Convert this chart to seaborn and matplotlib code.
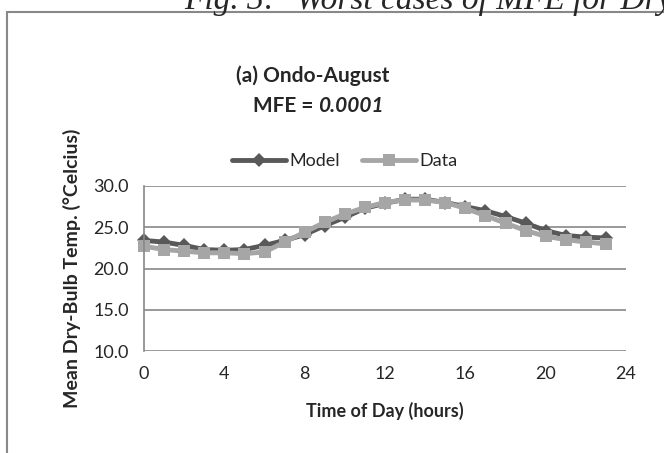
import matplotlib
matplotlib.use("Agg")
import matplotlib.pyplot as plt
import seaborn as sns
import pandas as pd
from matplotlib.patches import Rectangle

hours = list(range(24))
model_temp = [23.4, 23.2, 22.8, 22.3, 22.2, 22.3, 22.8, 23.4, 24.1, 25.2, 26.2, 27.3,
              27.9, 28.4, 28.4, 28.0, 27.5, 27.0, 26.3, 25.5, 24.6, 24.0, 23.8, 23.7]
data_temp = [22.7, 22.3, 22.1, 21.9, 21.9, 21.8, 22.0, 23.2, 24.4, 25.6, 26.6, 27.4,
             28.0, 28.3, 28.3, 28.0, 27.3, 26.4, 25.5, 24.6, 23.9, 23.5, 23.2, 23.0]
x_ticks = [0, 4, 8, 12, 16, 20, 24]
y_ticks = [10, 15, 20, 25, 30]

sns.set_style("white")
plt.rcParams["font.family"] = ["Lato", "DejaVu Sans"]

fig = plt.figure(figsize=(6.64, 4.53), dpi=100)
ax = fig.add_axes([144 / 664, 1 - 351 / 453, (626 - 144) / 664, (351 - 186) / 453])

# outer chart frame (runs off the page on the right and bottom)
fig.patches.append(Rectangle((7 / 664, -0.1), 1.0, 1 - 12 / 453 + 0.1,
                             transform=fig.transFigure, fill=False,
                             edgecolor="#888888", linewidth=1.5))

df = pd.DataFrame({"hour": hours, "Model": model_temp, "Data": data_temp})

sns.lineplot(data=df, x="hour", y="Model", ax=ax, color="#595959", linewidth=3.5,
             marker="D", markersize=7, markeredgewidth=0, label="Model", clip_on=False)
sns.lineplot(data=df, x="hour", y="Data", ax=ax, color="#a6a6a6", linewidth=3.5,
             marker="s", markersize=9, markeredgewidth=0, label="Data", clip_on=False)

ax.set_xlim(0, 24)
ax.set_ylim(10, 30)
ax.set_xticks(x_ticks)
ax.set_yticks(y_ticks)
ax.set_yticklabels([f"{v:.1f}" for v in y_ticks])
ax.grid(axis="y", color="#888888", linewidth=1.2)
ax.set_axisbelow(True)
for side in ["top", "right", "bottom"]:
    ax.spines[side].set_visible(False)
ax.spines["left"].set_color("#888888")
ax.spines["left"].set_linewidth(1.2)
ax.tick_params(axis="both", length=0, labelsize=13, pad=11)

ax.set_xlabel("Time of Day (hours)", fontsize=13, fontweight="bold", labelpad=14)
ax.set_ylabel("Mean Dry-Bulb Temp. (°Celcius)", fontsize=14, fontweight="bold", labelpad=9)

fig.text(313 / 664, 1 - 76 / 453, "(a) Ondo-August", ha="center", va="center",
         fontsize=15, fontweight="bold")
fig.text(313 / 664, 1 - 106 / 453, "MFE =", ha="right", va="center",
         fontsize=15, fontweight="bold")
fig.text(318 / 664, 1 - 106 / 453, "0.0001", ha="left", va="center",
         fontsize=15, fontweight="bold", style="italic")

fig.text(184 / 664, 1 - 9 / 453, "Fig. 3:", ha="left", va="baseline",
         fontsize=24, style="italic", family="Liberation Serif")
fig.text(296 / 664, 1 - 9 / 453, "Worst cases of MFE for Dry-Bulb Temperature",
         ha="left", va="baseline", fontsize=24, style="italic", family="Liberation Serif")

ax.legend(loc="center", bbox_to_anchor=(345 / 664, 1 - 161 / 453),
          bbox_transform=fig.transFigure, ncol=2, frameon=False, fontsize=13,
          handlelength=3, columnspacing=1.2, handletextpad=0.2)

fig.savefig("out.png", dpi=100)
